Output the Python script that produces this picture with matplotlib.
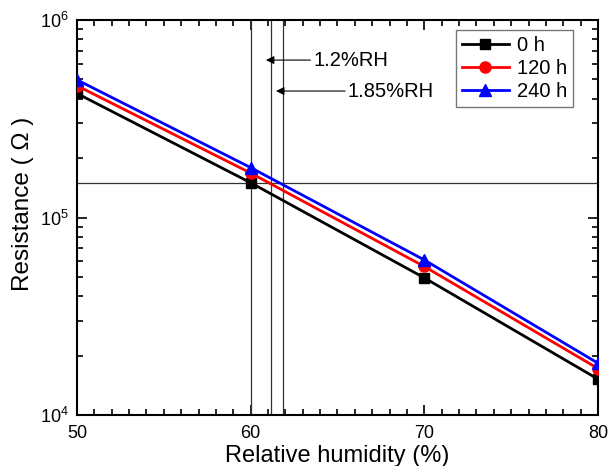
import matplotlib
matplotlib.use("Agg")
import matplotlib.pyplot as plt
from matplotlib.ticker import MultipleLocator, LogLocator, NullFormatter

plt.rcParams['font.family'] = ['Liberation Sans', 'DejaVu Sans']
plt.rcParams['mathtext.fontset'] = 'custom'
plt.rcParams['mathtext.rm'] = 'Liberation Sans'

humidity = [50, 60, 70, 80]
r_0h = [4.25e5, 1.5e5, 4.95e4, 1.52e4]
r_120h = [4.65e5, 1.68e5, 5.65e4, 1.72e4]
r_240h = [4.98e5, 1.79e5, 6.1e4, 1.83e4]
series_labels = ['0 h', '120 h', '240 h']
vlines_x = [60, 61.2, 61.85]
hline_y = 1.5e5
annotations = ['1.2%RH', '1.85%RH']

fig = plt.figure(figsize=(6.13, 4.66), dpi=100)
ax = fig.add_axes([0.1256, 0.1094, 0.8499, 0.8476])

ax.plot(humidity, r_0h, color='black', marker='s', markersize=7, lw=2, label=series_labels[0], zorder=3)
ax.plot(humidity, r_120h, color='red', marker='o', markersize=8, lw=2, label=series_labels[1], zorder=3)
ax.plot(humidity, r_240h, color='blue', marker='^', markersize=8, lw=2, label=series_labels[2], zorder=3)

for xv in vlines_x:
    ax.axvline(xv, color='#333333', lw=0.9, zorder=2)
ax.axhline(hline_y, color='#333333', lw=0.9, zorder=2)

ax.set_yscale('log')
ax.set_xlim(50, 80)
ax.set_ylim(1e4, 1e6)

ax.annotate(annotations[0], xy=(60.88, 6.27e5), xytext=(63.6, 6.27e5),
            fontsize=14.5, va='center', ha='left',
            arrowprops=dict(arrowstyle='-|>', color='black', lw=0.8,
                            mutation_scale=12, shrinkA=0, shrinkB=0))
ax.annotate(annotations[1], xy=(61.46, 4.37e5), xytext=(65.6, 4.37e5),
            fontsize=14.5, va='center', ha='left',
            arrowprops=dict(arrowstyle='-|>', color='black', lw=0.8,
                            mutation_scale=12, shrinkA=0, shrinkB=0))

ax.xaxis.set_major_locator(MultipleLocator(10))
ax.xaxis.set_minor_locator(MultipleLocator(1))
ax.yaxis.set_major_locator(LogLocator(base=10, numticks=10))
ax.yaxis.set_minor_locator(LogLocator(base=10, subs=range(2, 10), numticks=10))
ax.yaxis.set_minor_formatter(NullFormatter())

ax.tick_params(which='both', direction='in', top=True, right=True, width=1.2)
ax.tick_params(which='major', length=7, labelsize=13)
ax.tick_params(which='minor', length=4)
ax.tick_params(axis='x', which='major', pad=7)
ax.tick_params(axis='y', which='major', pad=6)
for s in ax.spines.values():
    s.set_linewidth(1.5)

ax.set_xlabel('Relative humidity (%)', fontsize=17, labelpad=2)
ax.set_ylabel('Resistance ( Ω )', fontsize=17.5)
ax.yaxis.set_label_coords(-0.082, 0.534)

leg = ax.legend(loc='upper right', bbox_to_anchor=(0.952, 0.975), borderaxespad=0, fontsize=14.5,
                frameon=True, fancybox=False, edgecolor='#555555',
                handlelength=2.3, borderpad=0.3, labelspacing=0.2, handletextpad=0.4)
leg.get_frame().set_linewidth(1.0)

fig.savefig('out.png', dpi=100)
